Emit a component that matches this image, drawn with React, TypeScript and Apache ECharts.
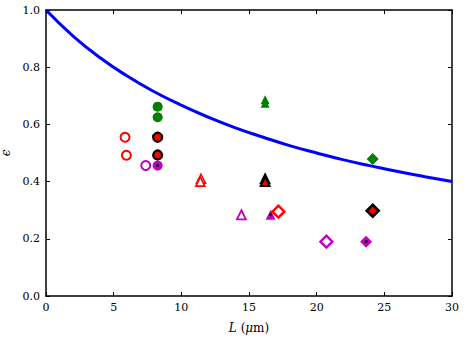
import React, { useEffect, useRef } from "react";
import * as echarts from "echarts";

const curveL = [0, 2, 4, 6, 8, 10, 12, 14, 16, 18, 20, 22, 24, 26, 28, 30];
const curveEps = [1.0, 0.909, 0.833, 0.769, 0.714, 0.667, 0.625, 0.588, 0.556, 0.526, 0.5, 0.476, 0.455, 0.435, 0.417, 0.4];

const xTicks = [0, 5, 10, 15, 20, 25, 30];
const yTicks = [0.0, 0.2, 0.4, 0.6, 0.8, 1.0];

// circles
const redOpenCircles: [number, number][] = [[5.84, 0.555], [5.94, 0.492]];
const magentaOpenCircles: [number, number][] = [[7.37, 0.456]];
const greenCircles: [number, number][] = [[8.25, 0.662], [8.25, 0.625]];
const blackRedCircles: [number, number][] = [[8.25, 0.555], [8.25, 0.493]];
const magentaDotCircles: [number, number][] = [[8.25, 0.456]];
// triangles
const redOpenTriangles: [number, number][] = [[11.45, 0.41], [11.4, 0.4]];
const greenTriangles: [number, number][] = [[16.19, 0.686], [16.19, 0.674]];
const blackRedTriangles: [number, number][] = [[16.19, 0.41], [16.19, 0.4]];
const magentaOpenTriangles: [number, number][] = [[14.44, 0.284]];
const magentaDotTriangles: [number, number][] = [[16.6, 0.284]];
// diamonds
const redOpenDiamonds: [number, number][] = [[17.17, 0.295]];
const greenDiamonds: [number, number][] = [[24.14, 0.479]];
const blackRedDiamonds: [number, number][] = [[24.14, 0.298]];
const magentaOpenDiamonds: [number, number][] = [[20.72, 0.19]];
const magentaDotDiamonds: [number, number][] = [[23.65, 0.19]];

const FONT = "DejaVu Serif";
const MAG = "#c000c0";
const RED = "#ff0000";
const GREEN = "#008000";
const BLACK = "#000000";

const TRI = "path://M0,-10L8.66,5L-8.66,5Z";

function sc(data: [number, number][], symbol: string, size: number, fill: string, border: string, bw: number, z = 3) {
  return {
    type: "scatter",
    data,
    symbol,
    symbolSize: size,
    itemStyle: { color: fill, borderColor: border, borderWidth: bw, opacity: 1 },
    z,
  };
}

export default function App() {
  const ref = useRef<HTMLDivElement>(null);
  useEffect(() => {
    if (!ref.current) return;
    const chart = echarts.init(ref.current, null, { renderer: "svg" });
    const axisCommon = {
      axisLine: { show: true, onZero: false, lineStyle: { color: "#000", width: 1.5 } },
      axisTick: { show: true, inside: true, length: 4, lineStyle: { color: "#000", width: 1 } },
      splitLine: { show: false },
    };
    chart.setOption({
      animation: false,
      backgroundColor: "#fff",
      textStyle: { fontFamily: FONT },
      grid: { left: 46, right: 14, top: 10, bottom: 43, outerBoundsMode: "none", containLabel: false },
      xAxis: [
        {
          type: "value",
          min: xTicks[0],
          max: xTicks[xTicks.length - 1],
          interval: 5,
          ...axisCommon,
          axisLabel: { color: "#000", fontFamily: FONT, fontSize: 11, margin: 6 },
          name: "{i|L} ({i|μ}m)",
          nameLocation: "middle",
          nameGap: 26,
          nameTextStyle: {
            color: "#000",
            fontFamily: FONT,
            fontSize: 12,
            rich: { i: { fontStyle: "italic", fontFamily: FONT, fontSize: 12, color: "#000" } },
          },
        },
        {
          type: "value",
          position: "top",
          min: 0,
          max: 30,
          interval: 5,
          ...axisCommon,
          axisLabel: { show: false },
        },
      ],
      yAxis: [
        {
          type: "value",
          min: yTicks[0],
          max: yTicks[yTicks.length - 1],
          interval: 0.2,
          ...axisCommon,
          axisLabel: {
            color: "#000",
            fontFamily: FONT,
            fontSize: 11,
            margin: 6,
            formatter: (v: number) => v.toFixed(1),
          },
          name: "ϵ",
          nameLocation: "middle",
          nameGap: 30,
          nameRotate: 90,
          nameTextStyle: { color: "#000", fontFamily: FONT, fontSize: 12, fontStyle: "italic" },
        },
        {
          type: "value",
          position: "right",
          min: 0,
          max: 1,
          interval: 0.2,
          ...axisCommon,
          axisLabel: { show: false },
        },
      ],
      series: [
        {
          type: "line",
          data: curveL.map((l, i) => [l, curveEps[i]]),
          smooth: true,
          showSymbol: false,
          lineStyle: { color: "#0000ff", width: 3 },
          z: 2,
        },
        sc(redOpenCircles, "circle", 9, "#fff", RED, 2),
        sc(magentaOpenCircles, "circle", 9, "#fff", MAG, 2),
        sc(greenCircles, "circle", 10, GREEN, GREEN, 0),
        sc(blackRedCircles, "circle", 9, RED, BLACK, 2.2),
        sc(magentaDotCircles, "circle", 10, MAG, MAG, 0),
        sc(magentaDotCircles, "circle", 3, BLACK, BLACK, 0, 4),
        sc(redOpenTriangles, TRI, 9, "#fff", RED, 1.6),
        sc(greenTriangles, TRI, 9, GREEN, GREEN, 0),
        sc(blackRedTriangles, TRI, 9, RED, BLACK, 1.8),
        sc(magentaOpenTriangles, TRI, 9, "#fff", MAG, 1.8),
        sc(magentaDotTriangles, TRI, 10, MAG, MAG, 0),
        sc(magentaDotTriangles, "circle", 3, BLACK, BLACK, 0, 4),
        sc(redOpenDiamonds, "diamond", 12, "#fff", RED, 2.4),
        sc(greenDiamonds, "diamond", 12, GREEN, GREEN, 0),
        sc(blackRedDiamonds, "diamond", 12, RED, BLACK, 2.6),
        sc(magentaOpenDiamonds, "diamond", 12, "#fff", MAG, 2.4),
        sc(magentaDotDiamonds, "diamond", 12, MAG, MAG, 0),
        sc(magentaDotDiamonds, "circle", 3, BLACK, BLACK, 0, 4),
      ],
    });
    return () => chart.dispose();
  }, []);
  return <div ref={ref} style={{ width: 466, height: 339, position: "absolute", left: 0, top: 0 }} />;
}
